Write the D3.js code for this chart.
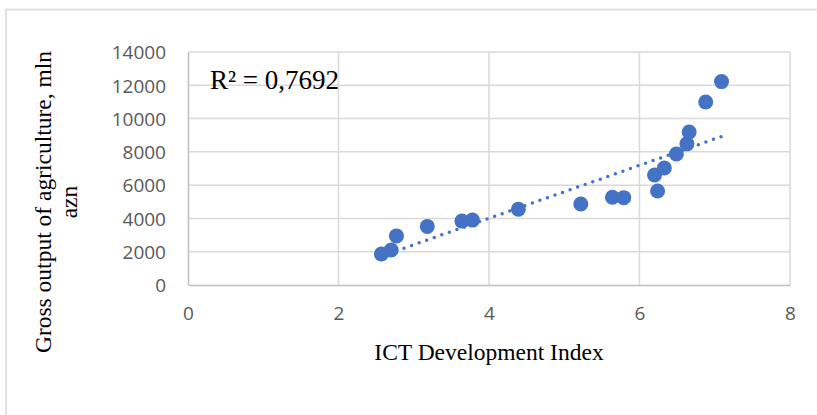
<!DOCTYPE html>
<html lang="en">
<head>
  <meta charset="UTF-8">
  <title>ICT vs agriculture</title>
  <script src="https://cdn.jsdelivr.net/npm/d3@7"></script>
  <style>
  body { margin: 0; background: #fff; }
  .tick text { font-family: "Open Sans", sans-serif; font-size: 19px; fill: #595959; }
  .title { font-family: "Liberation Serif", "Times New Roman", serif; font-size: 23.5px; fill: #000; }
  </style>
</head>
<body>
<div id="chart"></div>
<script>
// ICT Development Index vs gross output of agriculture (mln azn)
const ictIndex = [2.57, 2.70, 2.77, 3.18, 3.64, 3.78, 4.39, 5.22, 5.64, 5.79,
                  6.24, 6.20, 6.33, 6.49, 6.63, 6.66, 6.88, 7.09];
const grossOutput = [1860, 2100, 2950, 3520, 3840, 3900, 4550, 4870, 5270, 5250,
                     5650, 6610, 7030, 7870, 8480, 9190, 11000, 12220];
const xTicks = [0, 2, 4, 6, 8];
const yTicks = [0, 2000, 4000, 6000, 8000, 10000, 12000, 14000];
// linear trendline as shown in the chart: y = slope * x + intercept
const trendSlope = 1590;
const trendIntercept = -2350;
const r2Label = 'R² = 0,7692';

const W = 817, H = 415;
const plot = { left: 188, right: 790, top: 52, bottom: 285 };

const svg = d3.select('#chart').append('svg')
  .attr('width', W).attr('height', H);

// chart area border (cut off by the picture on right/bottom)
svg.append('rect')
  .attr('x', 6).attr('y', 9.5).attr('width', W).attr('height', H)
  .attr('fill', 'none').attr('stroke', '#d9d9d9').attr('stroke-width', 1.5);

const x = d3.scaleLinear().domain([0, 8]).range([plot.left, plot.right]);
const y = d3.scaleLinear().domain([0, 14000]).range([plot.bottom, plot.top]);

// gridlines
svg.append('g').selectAll('line.h').data(yTicks.slice(1)).join('line')
  .attr('x1', plot.left).attr('x2', plot.right)
  .attr('y1', d => y(d)).attr('y2', d => y(d))
  .attr('stroke', '#d9d9d9').attr('stroke-width', 1.5);
svg.append('g').selectAll('line.v').data(xTicks.slice(1)).join('line')
  .attr('x1', d => x(d)).attr('x2', d => x(d))
  .attr('y1', plot.top).attr('y2', plot.bottom)
  .attr('stroke', '#d9d9d9').attr('stroke-width', 1.5);

// axes
const xAxis = svg.append('g')
  .attr('transform', `translate(0,${plot.bottom})`)
  .call(d3.axisBottom(x).tickValues(xTicks).tickSize(0).tickPadding(22));
const yAxis = svg.append('g')
  .attr('transform', `translate(${plot.left},0)`)
  .call(d3.axisLeft(y).tickValues(yTicks).tickSize(0).tickPadding(22).tickFormat(d3.format('d')));
[xAxis, yAxis].forEach(g => g.select('.domain').attr('stroke', '#bfbfbf').attr('stroke-width', 1.5));
yAxis.selectAll('.tick text').attr('dy', '0.36em');

// points
svg.append('g').selectAll('circle').data(ictIndex).join('circle')
  .attr('cx', d => x(d))
  .attr('cy', (d, i) => y(grossOutput[i]))
  .attr('r', 7.5)
  .attr('fill', '#4472c4');

// dotted trendline over the data range
const x0 = d3.min(ictIndex), x1 = d3.max(ictIndex);
svg.append('line')
  .attr('x1', x(x0)).attr('y1', y(trendIntercept + trendSlope * x0))
  .attr('x2', x(x1)).attr('y2', y(trendIntercept + trendSlope * x1))
  .attr('stroke', '#4472c4').attr('stroke-width', 3.5)
  .attr('stroke-linecap', 'round').attr('stroke-dasharray', '0 8');

// R² label
svg.append('text').attr('class', 'title')
  .attr('x', 210).attr('y', 89)
  .style('font-size', '27px')
  .text(r2Label);

// axis titles
svg.append('text').attr('class', 'title')
  .attr('x', (plot.left + plot.right) / 2).attr('y', 360)
  .attr('text-anchor', 'middle')
  .text('ICT Development Index');

const yt = svg.append('text').attr('class', 'title')
  .attr('text-anchor', 'middle')
  .attr('transform', 'translate(51,202) rotate(-90)');
yt.append('tspan').attr('x', 0).attr('y', 0).text('Gross output of agriculture, mln');
yt.append('tspan').attr('x', 0).attr('y', 26).text('azn');
</script>
</body>
</html>
